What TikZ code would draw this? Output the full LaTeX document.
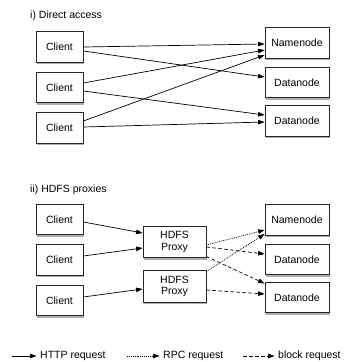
\documentclass[tikz,border=0pt]{standalone}
\usepackage{fontspec}
\setmainfont{Liberation Sans}
\usetikzlibrary{arrows.meta,shadows}
\begin{document}
\begin{tikzpicture}[x=1pt,y=-1pt,
    box/.style={draw=black!85,line width=0.8pt,fill=white,inner sep=0pt,
      drop shadow={shadow xshift=0.6pt,shadow yshift=-2.2pt,opacity=0.45,fill=black!70}},
    client/.style={box,minimum width=47pt,minimum height=30.5pt},
    server/.style={box,minimum width=64pt,minimum height=30.5pt},
    proxy/.style={box,minimum width=63pt,minimum height=31.5pt,align=center},
    http/.style={line width=0.7pt,-{Triangle[length=6.5pt,width=4.5pt]}},
    rpc/.style={http,dash pattern=on 0.9pt off 1pt},
    block/.style={http,dash pattern=on 3.5pt off 2.5pt}]
    \useasboundingbox (0,0) rectangle (344,362);
    {\fontsize{10.5}{11.5}\selectfont

    % Drawing part i
    \node [anchor=west] (titlei) at (26.5,16) {i) Direct access};
    \node [client] (c1) at (59.5,47.0) {Client};
    \node [client] (c2) at (59.5,87.5) {Client};
    \node [client] (c3) at (59.5,128.0) {Client};
    \node [server] (nn) at (297.0,43.0) {Namenode};
    \node [server] (dn1) at (297.0,82.5) {Datanode};
    \node [server] (dn2) at (297.0,121.0) {Datanode};

    % Drawing direct requests
    \draw [http] (c1.east) -- ([yshift=-1pt]nn.west);
    \draw [http] ([yshift=-4pt]c1.east) -- ([yshift=5.5pt]dn1.west);
    \draw [http] ([yshift=4.5pt]c2.east) -- ([yshift=-7pt]nn.west);
    \draw [http] ([yshift=-3.5pt]c2.east) -- ([yshift=6pt]dn2.west);
    \draw [http] ([yshift=7pt]c3.east) -- ([yshift=-12pt]nn.west);
    \draw [http] ([yshift=1pt]c3.east) -- ([yshift=-1pt]dn2.west);

    % Drawing part ii
    \node [anchor=west] (titleii) at (26.5,190) {ii) HDFS proxies};
    \node [client] (c4) at (59.5,219.5) {Client};
    \node [client] (c5) at (59.5,260.0) {Client};
    \node [client] (c6) at (59.5,300.5) {Client};
    \node [proxy] (p1) at (174.5,242.0) {HDFS\\Proxy};
    \node [proxy] (p2) at (174.5,286.5) {HDFS\\Proxy};
    \node [server] (nn2) at (297.0,220.0) {Namenode};
    \node [server] (dn3) at (297.0,259.5) {Datanode};
    \node [server] (dn4) at (297.0,297.5) {Datanode};

    % Drawing requests through the proxies
    \draw [http] ([yshift=-2.5pt]c4.east) -- ([yshift=9pt]p1.west);
    \draw [http] ([yshift=4pt]c5.east) -- ([yshift=-6pt]p1.west);
    \draw [http] ([yshift=3.5pt]c6.east) -- ([yshift=-2.5pt]p2.west);
    \draw [rpc] ([yshift=-3pt]p1.east) -- ([yshift=-10pt]nn2.west);
    \draw [block] ([yshift=-5pt]p1.east) -- ([yshift=5.5pt]dn3.west);
    \draw [block] ([yshift=-14.5pt]p1.east) -- ([yshift=14pt]dn4.west);
    \draw [rpc] ([yshift=15pt]p2.east) -- ([yshift=-14pt]nn2.west);
    \draw [block] ([yshift=-3.5pt]p2.east) -- ([yshift=3.5pt]dn4.west);

    % Marking legend
    \coordinate (httpa) at (12,356);
    \coordinate (rpca) at (127,356);
    \coordinate (blocka) at (243,356);
    \node [anchor=west] (httpl) at (36.5,356) {HTTP request};
    \node [anchor=west] (rpcl) at (159.5,356) {RPC request};
    \node [anchor=west] (blockl) at (274.5,356) {block request};
    \draw [http] (httpa) -- (httpl.west);
    \draw [rpc] (rpca) -- (rpcl.west);
    \draw [block] (blocka) -- (blockl.west);
    }
\end{tikzpicture}
\end{document}
